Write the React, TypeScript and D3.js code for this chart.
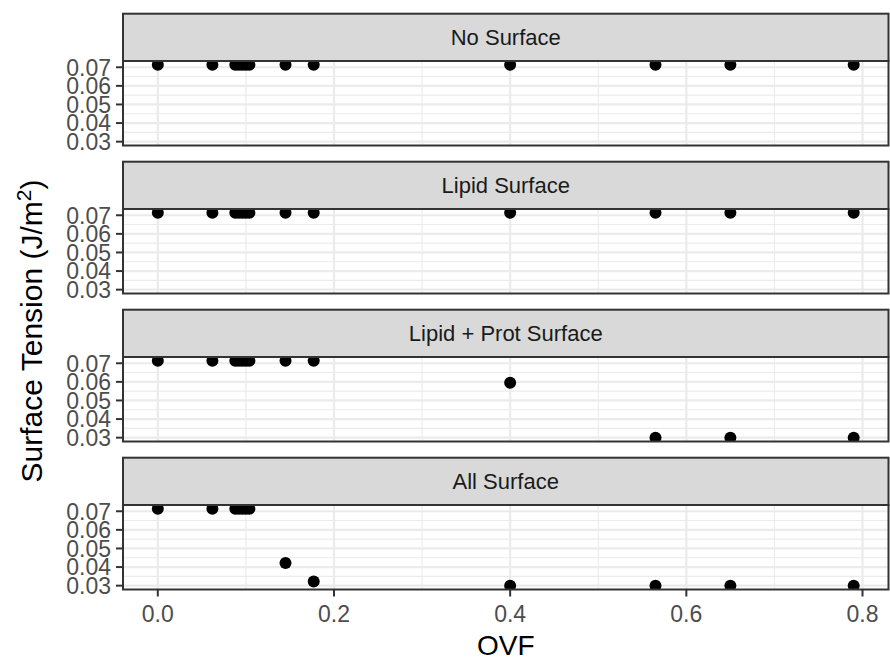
import React from 'react'
import * as d3 from 'd3'

// OVF values shared by every panel
const ovf = [0, 0.062, 0.088, 0.092, 0.096, 0.1, 0.104, 0.145, 0.177, 0.4, 0.565, 0.65, 0.79]

const panelNames = ['No Surface', 'Lipid Surface', 'Lipid + Prot Surface', 'All Surface']

// surface tension (J/m^2), one array per panel
const noSurface = [0.0713, 0.0713, 0.0713, 0.0713, 0.0713, 0.0713, 0.0713, 0.0713, 0.0713, 0.0713, 0.0713, 0.0713, 0.0713]
const lipidSurface = [0.0713, 0.0713, 0.0713, 0.0713, 0.0713, 0.0713, 0.0713, 0.0713, 0.0713, 0.0713, 0.0713, 0.0713, 0.0713]
const lipidProtSurface = [0.0713, 0.0713, 0.0713, 0.0713, 0.0713, 0.0713, 0.0713, 0.0713, 0.0713, 0.0595, 0.03, 0.03, 0.03]
const allSurface = [0.0713, 0.0713, 0.0713, 0.0713, 0.0713, 0.0713, 0.0713, 0.0422, 0.0322, 0.03, 0.03, 0.03, 0.03]

const xTicks = [0, 0.2, 0.4, 0.6, 0.8]
const xMinor = [0.1, 0.3, 0.5, 0.7]
const yTicks = [0.03, 0.04, 0.05, 0.06, 0.07]
const yMinor = [0.035, 0.045, 0.055, 0.065]

const W = 890
const H = 660
const left = 123
const right = 888.5
const top = 13.7
const stripH = 47.3
const dataH = 84.5
const gap = 16.2
const font = 'Liberation Sans, Arial, Helvetica, sans-serif'

const App = () => {
  const series = [noSurface, lipidSurface, lipidProtSurface, allSurface]
  const all = series.flat()

  // ggplot-style 5% expansion
  const xr = d3.extent(ovf) as [number, number]
  const xPad = (xr[1] - xr[0]) * 0.05
  const x = d3.scaleLinear().domain([xr[0] - xPad, xr[1] + xPad]).range([left, right])

  const yr = d3.extent(all) as [number, number]
  const yPad = (yr[1] - yr[0]) * 0.05
  const yDomain = [yr[0] - yPad, yr[1] + yPad]

  const fmtY = d3.format('.2f')
  const fmtX = d3.format('.1f')

  const lastBottom = top + 4 * (stripH + dataH) + 3 * gap

  return (
    <svg width={W} height={H} style={{ display: 'block', position: 'absolute', left: 0, top: 0 }} fontFamily={font}>
      <rect width={W} height={H} fill="#fff" />
      {panelNames.map((name, i) => {
        const stripTop = top + i * (stripH + dataH + gap)
        const pTop = stripTop + stripH
        const pBottom = pTop + dataH
        const y = d3.scaleLinear().domain(yDomain).range([pBottom, pTop])
        const vals = series[i]
        return (
          <g key={name}>
            <defs>
              <clipPath id={`clip${i}`}>
                <rect x={left} y={pTop} width={right - left} height={dataH} />
              </clipPath>
            </defs>
            <rect x={left} y={pTop} width={right - left} height={dataH} fill="#fff" />
            {yMinor.map((v) => (
              <line key={'ym' + v} x1={left} x2={right} y1={y(v)} y2={y(v)} stroke="#EBEBEB" strokeWidth={1.1} />
            ))}
            {xMinor.map((v) => (
              <line key={'xm' + v} x1={x(v)} x2={x(v)} y1={pTop} y2={pBottom} stroke="#EBEBEB" strokeWidth={1.1} />
            ))}
            {yTicks.map((v) => (
              <line key={'yM' + v} x1={left} x2={right} y1={y(v)} y2={y(v)} stroke="#EBEBEB" strokeWidth={2.2} />
            ))}
            {xTicks.map((v) => (
              <line key={'xM' + v} x1={x(v)} x2={x(v)} y1={pTop} y2={pBottom} stroke="#EBEBEB" strokeWidth={2.2} />
            ))}
            <g clipPath={`url(#clip${i})`}>
              {vals.map((v, j) => (
                <circle key={j} cx={x(ovf[j])} cy={y(v)} r={6} fill="#000" />
              ))}
            </g>
            <rect x={left} y={pTop} width={right - left} height={dataH} fill="none" stroke="#333333" strokeWidth={2} />
            <rect x={left} y={stripTop} width={right - left} height={stripH} fill="#D9D9D9" stroke="#333333" strokeWidth={2} />
            <text x={(left + right) / 2} y={stripTop + stripH / 2} dy="0.35em" textAnchor="middle" fontSize={22} fill="#1A1A1A">
              {name}
            </text>
            {yTicks.map((v) => (
              <g key={'yt' + v}>
                <line x1={left - 7} x2={left} y1={y(v)} y2={y(v)} stroke="#333333" strokeWidth={2} />
                <text x={left - 12} y={y(v)} dy="0.36em" textAnchor="end" fontSize={23} fill="#4D4D4D">
                  {fmtY(v)}
                </text>
              </g>
            ))}
          </g>
        )
      })}
      {xTicks.map((v) => (
        <g key={'xt' + v}>
          <line x1={x(v)} x2={x(v)} y1={lastBottom} y2={lastBottom + 7} stroke="#333333" strokeWidth={2} />
          <text x={x(v)} y={622} textAnchor="middle" fontSize={23} fill="#4D4D4D">
            {fmtX(v)}
          </text>
        </g>
      ))}
      <text x={(left + right) / 2} y={655} textAnchor="middle" fontSize={28} fill="#000">
        OVF
      </text>
      <text transform="translate(42,331) rotate(-90)" textAnchor="middle" fontSize={30} fill="#000">
        Surface Tension (J/m
        <tspan dy={-11} fontSize={21}>2</tspan>
        <tspan dy={11}>)</tspan>
      </text>
    </svg>
  )
}

export default App
